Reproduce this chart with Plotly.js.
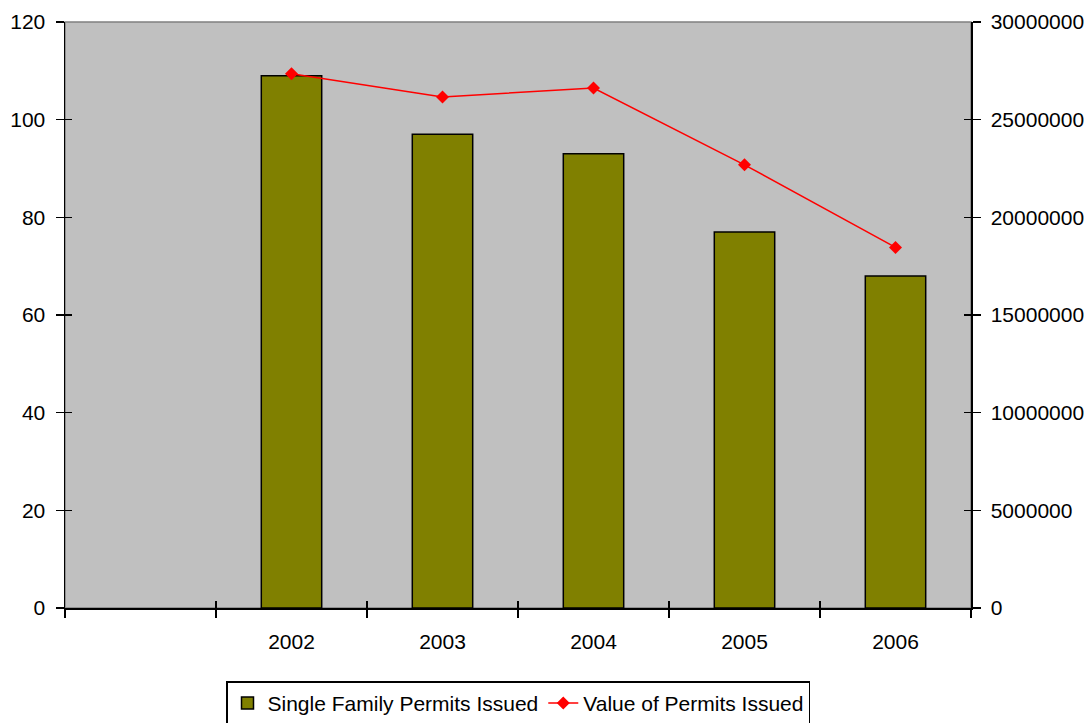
<!DOCTYPE html>
<html>
<head>
<meta charset="utf-8">
<script src="https://cdn.plot.ly/plotly-3.0.1.min.js"></script>
<style>html,body{margin:0;padding:0;background:#fff;}#chart{width:1088px;height:723px;}</style>
</head>
<body>
<div id="chart"></div>
<script>
const categories = [" ", "2002", "2003", "2004", "2005", "2006"];
const barYears = ["2002", "2003", "2004", "2005", "2006"];
const permitsIssued = [109, 97, 93, 77, 68];
const permitValues = [27350000, 26160000, 26620000, 22690000, 18460000];
const leftTicks = [0, 20, 40, 60, 80, 100, 120];
const rightTicks = [0, 5000000, 10000000, 15000000, 20000000, 25000000, 30000000];

const FONT = "Liberation Sans, Arial, sans-serif";

const traces = [
  {
    type: "bar", name: "Single Family Permits Issued",
    x: barYears, y: permitsIssued, xaxis: "x", yaxis: "y",
    width: 0.4,
    marker: {color: "#808000", line: {color: "#000000", width: 1.5}},
    hoverinfo: "x+y"
  },
  {
    type: "scatter", mode: "lines+markers", name: "Value of Permits Issued",
    x: barYears, y: permitValues, xaxis: "x", yaxis: "y2",
    line: {color: "#FF0000", width: 1.5},
    marker: {symbol: "diamond", size: 10, color: "#FF0000"}
  },
  { type: "scatter", mode: "markers", x: categories, y: categories.map(() => null),
    xaxis: "x2", yaxis: "y3", showlegend: false, hoverinfo: "skip" },
  { type: "scatter", mode: "markers", x: categories, y: categories.map(() => null),
    xaxis: "x2", yaxis: "y4", showlegend: false, hoverinfo: "skip" }
];

const axisLine = {showline: true, linecolor: "#000000", linewidth: 1.5, zeroline: false, showgrid: false, automargin: false};

const layout = {
  width: 1088, height: 723,
  margin: {l: 65, r: 117, t: 22, b: 115, autoexpand: false},
  paper_bgcolor: "#ffffff", plot_bgcolor: "#C0C0C0",
  font: {family: FONT, color: "#000000", size: 21},
  showlegend: true,
  bargap: 0.6,
  xaxis: Object.assign({}, axisLine, {
    type: "category", categoryorder: "array", categoryarray: categories,
    range: [-0.5, 5.5], tickson: "boundaries",
    ticks: "outside", ticklen: 8, tickwidth: 1.5, tickcolor: "#000",
    tickfont: {size: 21, family: FONT}, ticklabelstandoff: 14
  }),
  xaxis2: {
    overlaying: "x", anchor: "y", side: "bottom",
    type: "category", categoryorder: "array", categoryarray: categories,
    range: [-0.5, 5.5], tickson: "boundaries",
    ticks: "inside", ticklen: 7, tickwidth: 1.5, tickcolor: "#000",
    showticklabels: false, showgrid: false, zeroline: false, showline: false
  },
  yaxis: Object.assign({}, axisLine, {
    range: [0, 120], tickvals: leftTicks, ticktext: leftTicks.map(String),
    ticks: "outside", ticklen: 8, tickwidth: 1.5, tickcolor: "#000",
    tickfont: {size: 21, family: FONT}, ticklabelstandoff: 6
  }),
  yaxis2: Object.assign({}, axisLine, {
    overlaying: "y", side: "right", anchor: "x",
    range: [0, 30000000], tickvals: rightTicks, ticktext: rightTicks.map(String),
    ticks: "outside", ticklen: 8, tickwidth: 1.5, tickcolor: "#000",
    tickfont: {size: 21, family: FONT}, ticklabelstandoff: 6
  }),
  yaxis3: {
    overlaying: "y", side: "left", anchor: "x",
    range: [0, 120], tickvals: leftTicks,
    ticks: "inside", ticklen: 7, tickwidth: 1.5, tickcolor: "#000",
    showticklabels: false, showgrid: false, zeroline: false, showline: false
  },
  yaxis4: {
    overlaying: "y", side: "right", anchor: "x",
    range: [0, 30000000], tickvals: rightTicks,
    ticks: "inside", ticklen: 7, tickwidth: 1.5, tickcolor: "#000",
    showticklabels: false, showgrid: false, zeroline: false, showline: false
  },
  legend: {
    orientation: "h", x: 0.5, xanchor: "center", y: -0.125, yanchor: "top",
    bordercolor: "#000000", borderwidth: 1.5, bgcolor: "#ffffff",
    font: {size: 21, family: FONT}, traceorder: "normal"
  },
  shapes: [
    {type: "rect", xref: "paper", yref: "paper", x0: 0, x1: 1, y0: 0, y1: 1,
     line: {color: "#808080", width: 1.5}, layer: "below"}
  ]
};

Plotly.newPlot("chart", traces, layout, {displayModeBar: false, staticPlot: true});
</script>
</body>
</html>
